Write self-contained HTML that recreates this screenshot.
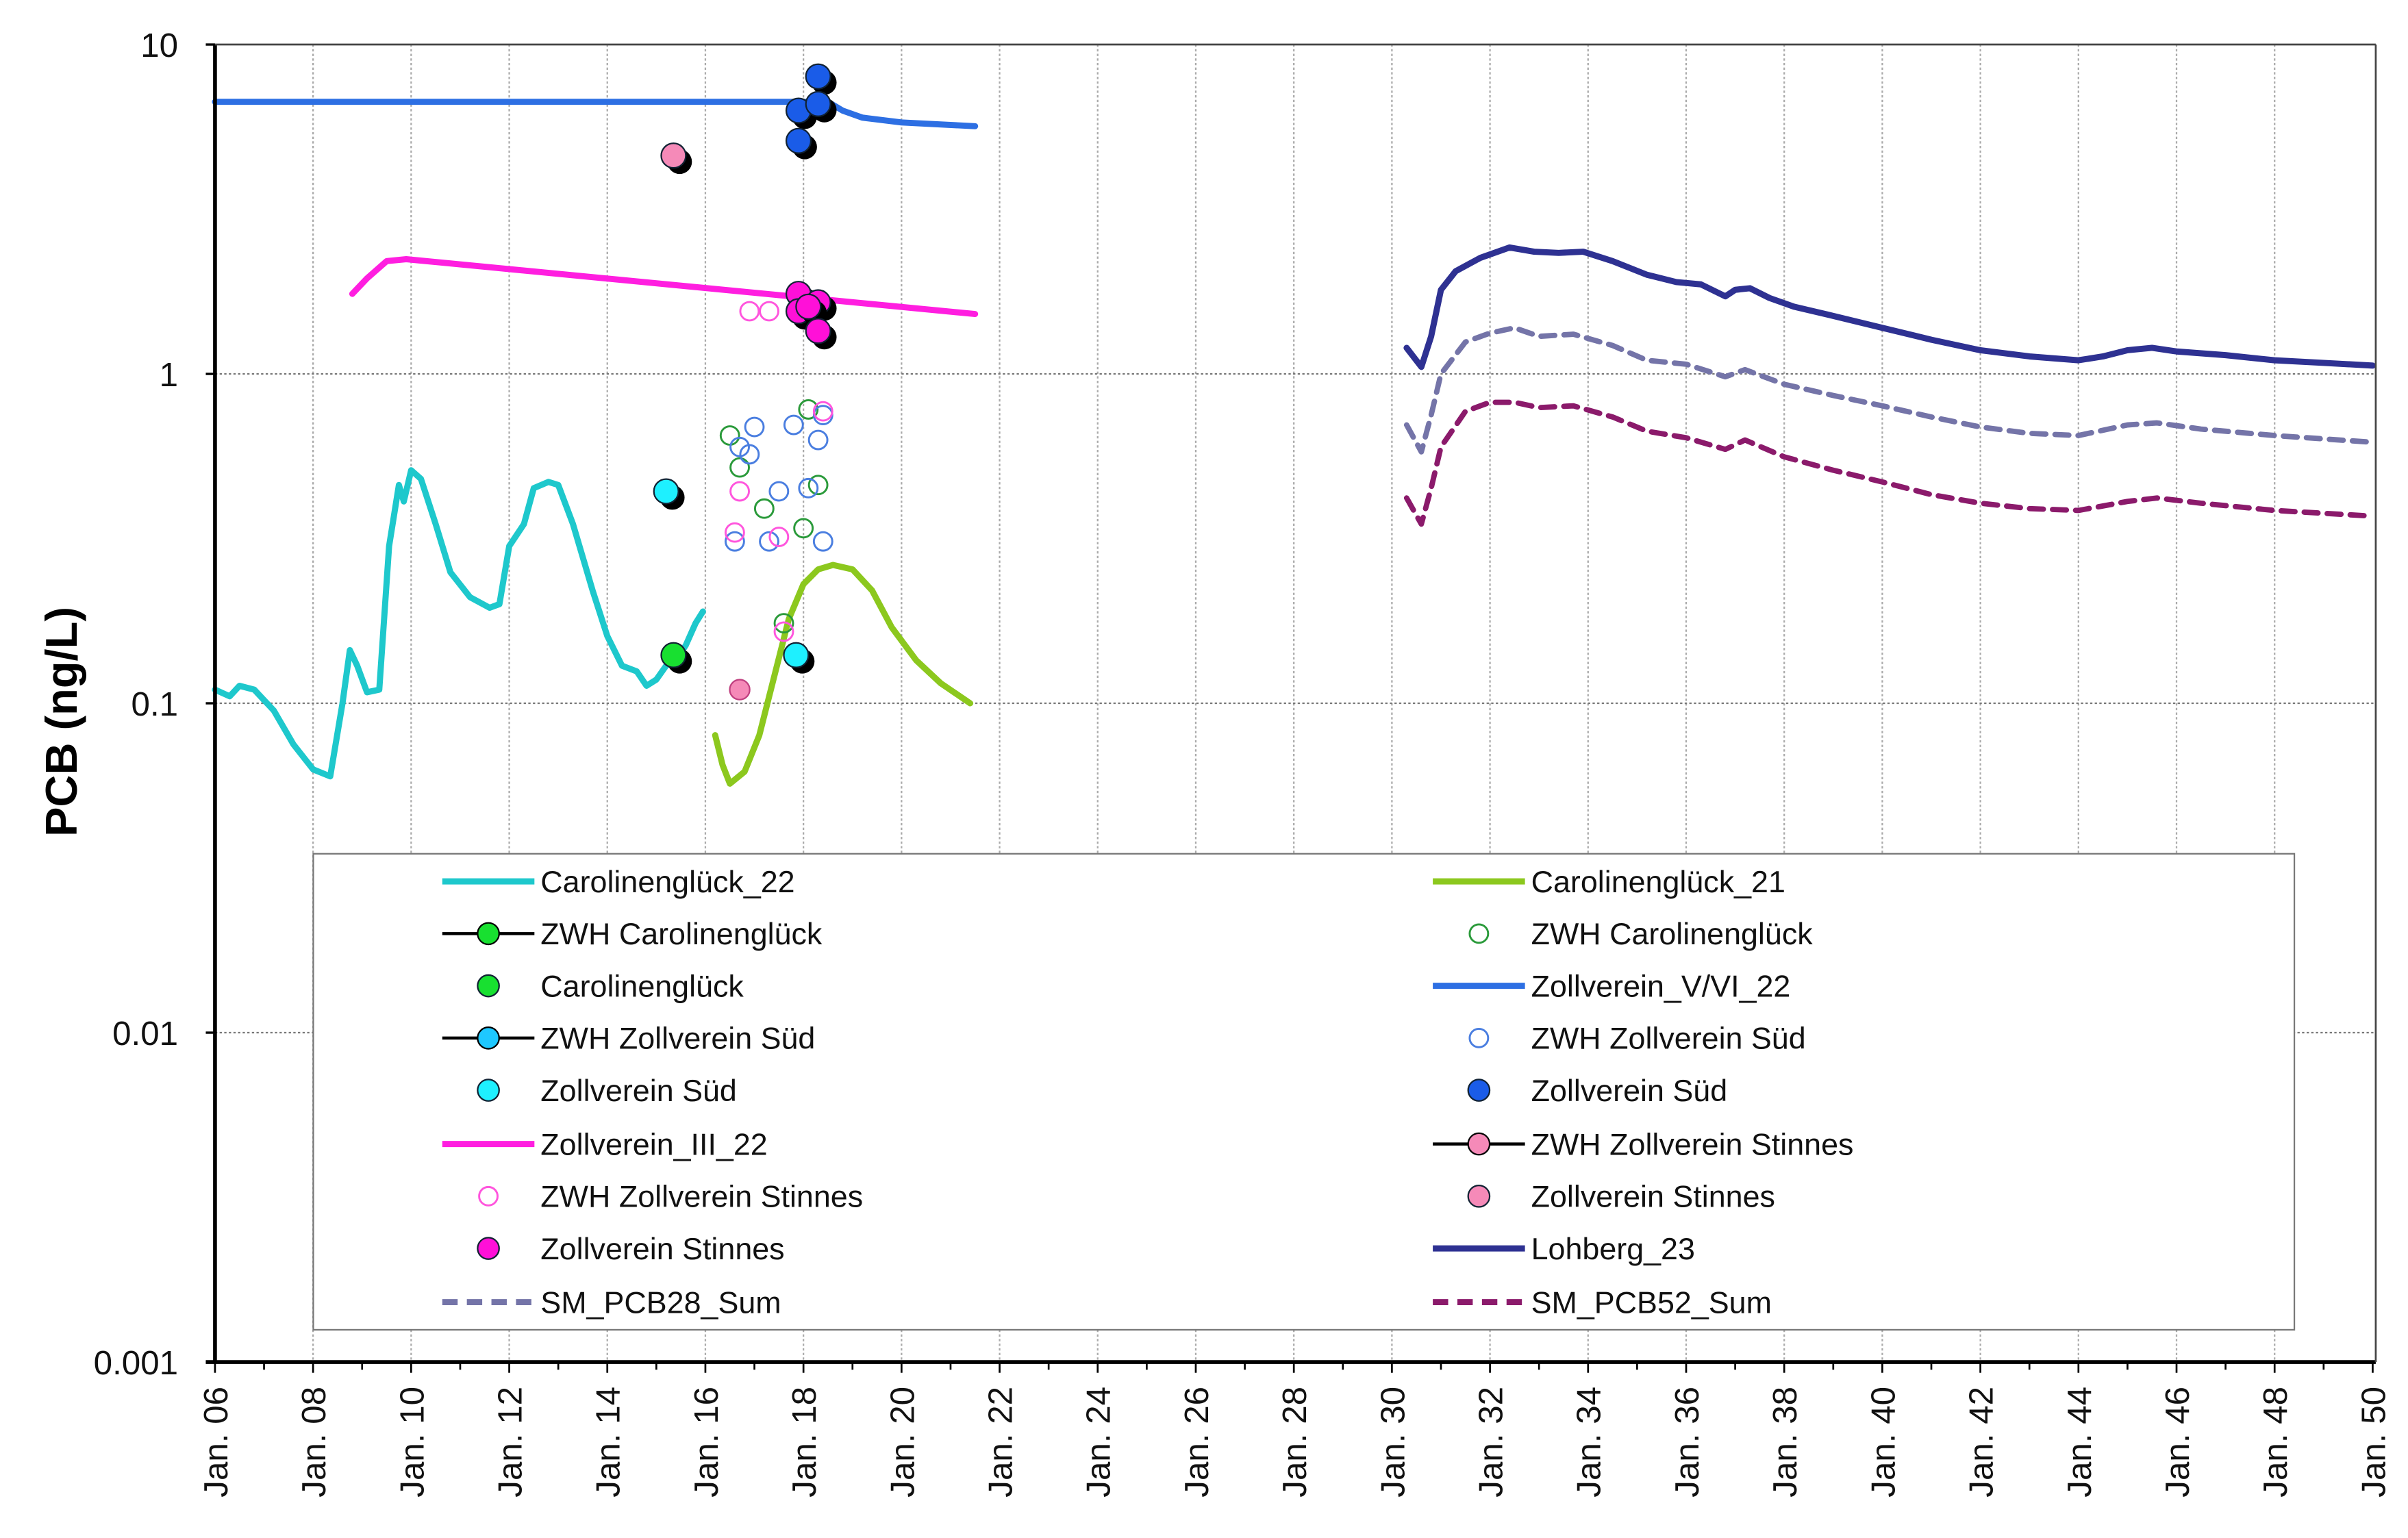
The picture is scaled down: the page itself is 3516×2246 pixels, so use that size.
<!DOCTYPE html>
<html><head><meta charset="utf-8">
<style>
html,body{margin:0;padding:0;background:#fff;}
svg{display:block;font-family:"Liberation Sans",Arial,sans-serif;}
</style></head>
<body>
<svg id="chart" xmlns="http://www.w3.org/2000/svg" width="3516" height="2246" viewBox="0 0 1568 1001.6" preserveAspectRatio="none">
<g id="grid"></g>
<g id="series"></g>
<g id="legend"></g>
<g id="axes"></g>
<text x="0" y="0" transform="translate(50,470) rotate(-90)" text-anchor="middle" font-size="29" font-weight="bold">PCB (ng/L)</text>
</svg>
<script>
const yTickValues=[10,1,0.1,0.01,0.001];
const yTickLabels=["10","1","0.1","0.01","0.001"];
const xTickYears=[2006,2008,2010,2012,2014,2016,2018,2020,2022,2024,2026,2028,2030,2032,2034,2036,2038,2040,2042,2044,2046,2048,2050];
const xTickLabels=["Jan. 06","Jan. 08","Jan. 10","Jan. 12","Jan. 14","Jan. 16","Jan. 18","Jan. 20","Jan. 22","Jan. 24","Jan. 26","Jan. 28","Jan. 30","Jan. 32","Jan. 34","Jan. 36","Jan. 38","Jan. 40","Jan. 42","Jan. 44","Jan. 46","Jan. 48","Jan. 50"];

const caro22X=[2006,2006.3,2006.5,2006.8,2007.2,2007.6,2008.0,2008.35,2008.6,2008.75,2008.9,2009.1,2009.35,2009.55,2009.75,2009.85,2010.0,2010.2,2010.5,2010.8,2011.2,2011.6,2011.8,2012.0,2012.3,2012.5,2012.8,2013.0,2013.3,2013.7,2014.0,2014.3,2014.6,2014.8,2015.0,2015.2,2015.4,2015.6,2015.8,2015.95];
const caro22Y=[0.11,0.105,0.113,0.11,0.095,0.075,0.063,0.06,0.1,0.145,0.13,0.108,0.11,0.3,0.46,0.41,0.51,0.48,0.35,0.25,0.21,0.195,0.2,0.3,0.35,0.45,0.47,0.46,0.35,0.22,0.16,0.13,0.125,0.113,0.118,0.13,0.135,0.15,0.175,0.19];
const caro21X=[2016.2,2016.35,2016.5,2016.8,2017.1,2017.4,2017.7,2018.0,2018.3,2018.6,2019.0,2019.4,2019.8,2020.3,2020.8,2021.4];
const caro21Y=[0.08,0.065,0.057,0.062,0.08,0.12,0.18,0.23,0.255,0.263,0.255,0.22,0.17,0.135,0.115,0.1];
const zvX=[2006,2018.5,2018.8,2019.2,2020,2021.5];
const zvY=[6.7,6.7,6.3,6.0,5.8,5.65];
const z3X=[2008.8,2009.1,2009.5,2009.9,2021.5];
const z3Y=[1.75,1.95,2.2,2.23,1.52];
const lohX=[2030.3,2030.6,2030.8,2031.0,2031.3,2031.8,2032.4,2032.9,2033.4,2033.9,2034.5,2035.2,2035.8,2036.3,2036.8,2037.0,2037.3,2037.7,2038.2,2039,2040,2041,2042,2043,2044,2044.5,2045,2045.5,2046,2047,2048,2049,2050];
const lohY=[1.2,1.05,1.3,1.8,2.05,2.25,2.42,2.35,2.33,2.35,2.2,2.0,1.9,1.87,1.72,1.8,1.82,1.7,1.6,1.5,1.38,1.27,1.18,1.13,1.1,1.13,1.18,1.2,1.17,1.14,1.1,1.08,1.06];
const smX=[2030.3,2030.6,2030.8,2031.0,2031.5,2032,2032.5,2033,2033.7,2034.5,2035.2,2036,2036.8,2037.2,2038,2039,2040,2041,2042,2043,2044,2045,2045.6,2046.5,2048,2050];
const pcb28Y=[0.7,0.58,0.75,1.0,1.25,1.33,1.38,1.3,1.32,1.22,1.1,1.07,0.98,1.03,0.93,0.86,0.8,0.74,0.69,0.66,0.65,0.7,0.71,0.68,0.65,0.62];
const pcb52Y=[0.42,0.35,0.45,0.6,0.77,0.82,0.82,0.79,0.8,0.74,0.67,0.64,0.59,0.63,0.56,0.51,0.47,0.43,0.405,0.39,0.385,0.41,0.42,0.405,0.385,0.37];

const zsudX=[2017.9,2018.3,2018.3,2017.9];
const zsudY=[6.3,8.0,6.6,5.1];
const stinX=[2015.35];
const stinY=[4.6];
const stinMX=[2017.9,2017.9,2018.3,2018.1,2018.3];
const stinMY=[1.75,1.55,1.65,1.6,1.35];
const cyanX=[2015.2,2017.85];
const cyanY=[0.44,0.14];
const greenX=[2015.35];
const greenY=[0.14];
const pinkX=[2016.7];
const pinkY=[0.11];
const openGX=[2016.5,2018.1,2016.7,2018.3,2017.2,2018.0,2017.6];
const openGY=[0.65,0.78,0.52,0.46,0.39,0.34,0.175];
const openBX=[2016.7,2016.9,2017.0,2017.8,2018.4,2018.3,2018.1,2017.5,2017.3,2018.4,2016.6];
const openBY=[0.6,0.57,0.69,0.7,0.75,0.63,0.45,0.44,0.31,0.31,0.31];
const openMX=[2016.9,2017.3,2018.4,2016.7,2016.6,2017.5,2017.6];
const openMY=[1.55,1.55,0.77,0.44,0.33,0.32,0.165];

const NS="http://www.w3.org/2000/svg";
const X0=140,X1=1545,Y0=29,DEC=214.5;
function xs(t){return X0+(t-2006)*(X1-X0)/44;}
function ys(v){return Y0+DEC*(1-Math.log10(v));}
function mk(tag,attrs,parent){const e=document.createElementNS(NS,tag);for(const k in attrs)e.setAttribute(k,attrs[k]);parent.appendChild(e);return e;}
const grid=document.getElementById('grid'),ser=document.getElementById('series'),leg=document.getElementById('legend'),ax=document.getElementById('axes');

xTickYears.forEach((t,i)=>{
  if(i>0&&i<xTickYears.length-1){
    const g=mk('line',{x1:xs(t),x2:xs(t),y1:Y0,y2:ys(0.001),stroke:'#aaa','stroke-width':1,'stroke-dasharray':'1.5,1.5'},grid);
    
    
  }
});
yTickValues.forEach(v=>{
  if(v<10&&v>0.001){
    const g=mk('line',{x1:X0,x2:1547,y1:ys(v),y2:ys(v),stroke:'#777','stroke-width':1,'stroke-dasharray':'1.5,1.5'},grid);
    
    
  }
});

function line(xa,ya,color,w,dash,name){
  const d=xa.map((x,i)=>(i?'L':'M')+xs(x).toFixed(2)+','+ys(ya[i]).toFixed(2)).join(' ');
  const p=mk('path',{d:d,fill:'none',stroke:color,'stroke-width':w,'stroke-linejoin':'round','stroke-linecap':'round'},ser);
  if(dash)p.setAttribute('stroke-dasharray',dash);
  
  
}
line(zvX,zvY,'#2d6fe3',4,null,'line-zollverein-v-vi-22');
line(z3X,z3Y,'#ff1ee0',4,null,'line-zollverein-iii-22');
line(caro22X,caro22Y,'#1ec8cc',4,null,'line-carolinenglueck-22');
line(caro21X,caro21Y,'#8cc81e',4,null,'line-carolinenglueck-21');
line(lohX,lohY,'#2e3192',4,null,'line-lohberg-23');
line(smX,pcb28Y,'#7474a8',3.5,'9,6','line-sm-pcb28-sum');
line(smX,pcb52Y,'#8b1a6b',3.5,'9,6','line-sm-pcb52-sum');

function openPts(xa,ya,color,name){
  xa.forEach((x,i)=>{
    const c=mk('circle',{cx:xs(x),cy:ys(ya[i]),r:6,fill:'none',stroke:color,'stroke-width':1.3},ser);
    
    
  });
}
function filledPts(xa,ya,color,name){
  xa.forEach((x,i)=>{
    mk('circle',{cx:xs(x)+4,cy:ys(ya[i])+4,r:8,fill:'#000'},ser);
    const c=mk('circle',{cx:xs(x),cy:ys(ya[i]),r:8,fill:color,stroke:'#123','stroke-width':1},ser);
    
    
  });
}
openPts(openGX,openGY,'#2a9a3a','point-zwh-carolinenglueck');
openPts(openBX,openBY,'#4a7ee0','point-zwh-zollverein-sued');
openPts(openMX,openMY,'#ff55dd','point-zwh-zollverein-stinnes');
filledPts(zsudX,zsudY,'#1a5ce8','point-zollverein-sued');
filledPts(stinX,stinY,'#f58ab8','point-zollverein-stinnes-pink');
filledPts(stinMX,stinMY,'#ff10d8','point-zollverein-stinnes');
filledPts(cyanX,cyanY,'#1ef0ff','point-zollverein-sued-cyan');
filledPts(greenX,greenY,'#18e030','point-carolinenglueck');
pinkX.forEach((x,i)=>{
  const c=mk('circle',{cx:xs(x),cy:ys(pinkY[i]),r:6.5,fill:'#f58ab8',stroke:'#c04080','stroke-width':1},ser);
  
  
});

const lb=mk('rect',{x:204,y:556,width:1290,height:310,fill:'#fff',stroke:'#777','stroke-width':1},leg);


const rowsY=[574,608,642,676,710,745,779,813,848];
const legItems=[
 [0,0,'line','#1ec8cc','Carolinenglück_22'],[1,0,'line','#8cc81e','Carolinenglück_21'],
 [0,1,'linedot','#18e030','ZWH Carolinenglück'],[1,1,'open','#2a9a3a','ZWH Carolinenglück'],
 [0,2,'dot','#18e030','Carolinenglück'],[1,2,'line','#2d6fe3','Zollverein_V/VI_22'],
 [0,3,'linedot','#1ec8ff','ZWH Zollverein Süd'],[1,3,'open','#4a7ee0','ZWH Zollverein Süd'],
 [0,4,'dot','#1ef0ff','Zollverein Süd'],[1,4,'dot','#1a5ce8','Zollverein Süd'],
 [0,5,'line','#ff1ee0','Zollverein_III_22'],[1,5,'linedot','#f58ab8','ZWH Zollverein Stinnes'],
 [0,6,'open','#ff55dd','ZWH Zollverein Stinnes'],[1,6,'dot','#f58ab8','Zollverein Stinnes'],
 [0,7,'dot','#ff10d8','Zollverein Stinnes'],[1,7,'line','#2e3192','Lohberg_23'],
 [0,8,'dash','#7474a8','SM_PCB28_Sum'],[1,8,'dash','#8b1a6b','SM_PCB52_Sum']
];
legItems.forEach(it=>{
  const lx=it[0]?933:288, tx=it[0]?997:352, y=rowsY[it[1]], cx=lx+30;
  const g=mk('g',{},leg);
  
  
  if(it[2]==='line')mk('line',{x1:lx,x2:lx+60,y1:y,y2:y,stroke:it[3],'stroke-width':4},g);
  if(it[2]==='dash')mk('line',{x1:lx,x2:lx+60,y1:y,y2:y,stroke:it[3],'stroke-width':4,'stroke-dasharray':'10,6'},g);
  if(it[2]==='linedot'){mk('line',{x1:lx,x2:lx+60,y1:y,y2:y,stroke:'#000','stroke-width':2},g);mk('circle',{cx:cx,cy:y,r:7,fill:it[3],stroke:'#000','stroke-width':1},g);}
  if(it[2]==='dot')mk('circle',{cx:cx,cy:y,r:7,fill:it[3],stroke:'#123','stroke-width':1},g);
  if(it[2]==='open')mk('circle',{cx:cx,cy:y,r:6,fill:'none',stroke:it[3],'stroke-width':1.3},g);
  const t=mk('text',{x:tx,y:y+7,'font-size':20,fill:'#111'},g);
  t.textContent=it[4];
});

mk('line',{x1:X0,x2:X0,y1:Y0,y2:ys(0.001),stroke:'#000','stroke-width':2.5},ax);
mk('line',{x1:X0-6,x2:1547,y1:ys(0.001),y2:ys(0.001),stroke:'#000','stroke-width':2.5},ax);
mk('line',{x1:X0,x2:1547,y1:Y0,y2:Y0,stroke:'#444','stroke-width':1.2},ax);
mk('line',{x1:1547,x2:1547,y1:Y0,y2:ys(0.001),stroke:'#444','stroke-width':1.2},ax);
yTickValues.forEach((v,i)=>{
  mk('line',{x1:X0-6,x2:X0,y1:ys(v),y2:ys(v),stroke:'#000','stroke-width':1.5},ax);
  const t=mk('text',{x:X0-24,y:ys(v)+8,'text-anchor':'end','font-size':22,fill:'#111'},ax);
  t.textContent=yTickLabels[i];
  
  
});
for(let yr=2006;yr<=2050;yr++){
  mk('line',{x1:xs(yr),x2:xs(yr),y1:ys(0.001),y2:ys(0.001)+(yr%2===0?7:5),stroke:'#000','stroke-width':1.2},ax);
}
xTickYears.forEach((t,i)=>{
  const x=xs(t)+8,y=ys(0.001)+16;
  const e=mk('text',{x:0,y:0,transform:'translate('+x+','+y+') rotate(-90)','text-anchor':'end','font-size':22,fill:'#111'},ax);
  e.textContent=xTickLabels[i];
  
  
});
</script>
</body></html>
